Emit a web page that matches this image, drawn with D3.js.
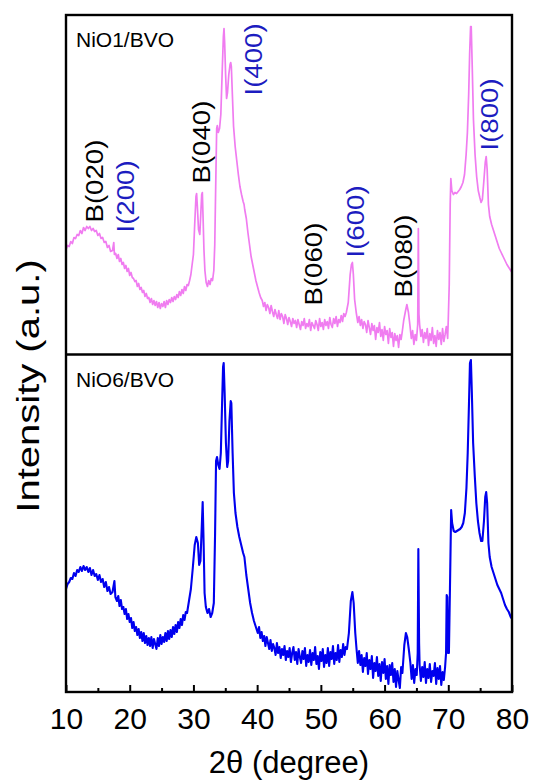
<!DOCTYPE html>
<html>
<head>
<meta charset="utf-8">
<script src="https://cdn.jsdelivr.net/npm/d3@7"></script>
<style>
body { margin: 0; background: #fff; }
svg text { font-family: "Liberation Sans", Arial, sans-serif; }
</style>
</head>
<body>
<svg id="chart" width="534" height="780"></svg>
<script>
// x axis
var xTicks = [10, 20, 30, 40, 50, 60, 70, 80];
var xMinorTicks = [15, 25, 35, 45, 55, 65, 75];

var sampleNames = ["NiO1/BVO", "NiO6/BVO"];

// [2theta, intensity a.u.]
var nio1Pattern = [
	[10.0,105],[10.25,109],[10.5,108],[10.75,113],[11.0,111],[11.25,117],[11.5,116],[11.75,120],[12.0,119],[12.25,124],
	[12.5,121],[12.75,127],[13.0,124],[13.25,128],[13.5,126],[13.75,128],[14.0,124],[14.25,126],[14.5,123],[14.75,124],
	[15.0,119],[15.25,121],[15.5,116],[15.75,117],[16.0,112],[16.25,113],[16.5,107],[16.75,109],[17.0,103],[17.3,104],
	[17.5,112],[17.6,100],[17.8,101],
	[18.0,96],[18.2,100],[18.4,93],[18.6,96],[18.8,90],[19.0,92],[19.2,86],[19.4,89],[19.6,83],[19.8,86],
	[20.0,79],[20.2,82],[20.4,77],[20.6,76],[20.8,73],[21.0,74],[21.2,68],[21.4,71],[21.6,65],[21.8,67],
	[22.0,62],[22.2,64],[22.4,58],[22.6,61],[22.8,56],[23.0,57],[23.2,52],[23.4,56],[23.6,50],[23.8,54],
	[24.0,49],[24.2,53],[24.4,47],[24.6,52],[24.8,46],[25.0,51],[25.2,48],[25.4,53],[25.6,47],[25.8,54],
	[26.0,50],[26.2,55],[26.4,52],[26.6,57],[26.8,53],[27.0,58],[27.2,55],[27.4,60],[27.6,57],[27.8,63],
	[28.0,59],[28.2,65],[28.4,61],[28.6,68],[28.8,64],[29.0,70],[29.2,69],[29.4,74],[29.6,80],[29.8,90],
	[30.0,100],[30.2,130],[30.4,158],[30.5,161],[30.6,150],[30.8,125],[31.0,120],[31.15,140],[31.3,160],
	[31.4,162],[31.5,140],[31.65,105],[31.8,84],[32.0,72],[32.2,68],[32.4,74],[32.6,70],[32.8,76],[33.0,74],
	[33.2,84],[33.35,110],[33.5,170],[33.65,226],[33.75,229],[33.9,222],[34.1,226],[34.3,240],[34.5,280],[34.7,318],
	[34.8,326],[34.9,312],[35.05,280],[35.2,256],[35.35,262],[35.55,280],[35.75,290],[35.85,292],[35.95,288],[36.1,262],
	[36.3,228],[36.55,208],[36.8,194],[37.05,180],[37.3,168],[37.55,160],[37.8,153],[37.95,150],[38.05,145],[38.3,136],
	[38.55,122],[38.8,110],[39.05,98],[39.3,90],[39.55,82],[39.8,74],[40.05,68],[40.3,62],[40.55,57],[40.8,54],
	[41.0,48],[41.2,52],[41.4,44],[41.6,50],[41.8,47],[42.0,41],[42.2,49],[42.4,43],[42.6,38],[42.8,45],
	[43.0,40],[43.2,36],[43.4,44],[43.6,35],[43.8,41],[44.0,38],[44.2,31],[44.4,40],[44.6,36],[44.8,30],
	[45.0,37],[45.2,33],[45.4,28],[45.6,36],[45.8,31],[46.0,34],[46.2,27],[46.4,35],[46.6,30],[46.8,25],
	[47.0,33],[47.2,29],[47.4,36],[47.6,26],[47.8,31],[48.0,28],[48.2,35],[48.4,24],[48.6,32],[48.8,29],
	[49.0,26],[49.2,34],[49.4,30],[49.6,24],[49.8,36],[50.0,28],[50.2,32],[50.4,25],[50.6,35],[50.8,29],
	[51.0,33],[51.2,26],[51.4,37],[51.6,30],[51.8,27],[52.0,36],[52.2,31],[52.4,38],[52.6,28],[52.8,35],
	[53.0,32],[53.2,39],[53.4,33],[53.6,41],[53.8,38],[54.0,42],[54.3,52],[54.6,80],[54.8,90],[54.95,92],
	[55.1,80],[55.3,55],[55.55,42],
	[55.8,32],[56.0,38],[56.2,29],[56.4,35],[56.6,26],[56.8,33],[57.0,30],[57.2,22],[57.4,34],[57.6,27],
	[57.8,20],[58.0,31],[58.2,24],[58.4,29],[58.6,15],[58.8,27],[59.0,22],[59.2,32],[59.4,18],[59.6,25],
	[59.8,14],[60.0,28],[60.2,20],[60.4,24],[60.6,11],[60.8,26],[61.0,17],[61.2,22],[61.4,8],[61.6,21],
	[61.8,14],[62.0,19],[62.2,7],[62.4,20],[62.6,15],[62.8,24],[63.0,34],[63.3,44],[63.5,50],[63.75,42],
	[64.0,28],[64.2,16],[64.4,24],[64.6,10],[64.8,20],[65.0,14],[65.2,30],[65.3,126],[65.4,40],
	[65.5,30],[65.7,18],[65.9,25],[66.1,12],[66.3,22],[66.5,16],[66.7,26],[66.9,9],[67.1,21],[67.3,14],
	[67.5,27],[67.7,11],[67.9,19],[68.1,8],[68.3,24],[68.5,15],[68.7,22],[68.9,10],[69.1,26],[69.3,13],
	[69.5,20],[69.7,28],[69.9,16],[70.0,35],
	[70.15,70],[70.3,150],[70.4,176],[70.55,164],[70.8,160],[71.05,162],[71.3,161],[71.55,163],[71.8,165],[72.05,168],
	[72.3,172],[72.55,180],[72.8,200],[73.0,222],[73.2,260],[73.35,300],[73.5,328],[73.6,328],[73.75,290],[73.95,235],
	[74.2,200],[74.45,178],[74.7,164],[74.95,157],[75.15,152],[75.35,155],[75.6,175],[75.8,192],[75.95,198],[76.1,185],
	[76.3,150],[76.5,138],[76.8,130],[77.1,124],[77.4,118],[77.7,112],[78.0,106],[78.3,102],[78.6,98],[78.9,94],
	[79.2,90],[79.5,87],[79.8,84],[80.0,82]
];

var nio6Pattern = [
	[10.0,104],[10.25,109],[10.5,111],[10.75,115],[11.0,114],[11.25,120],[11.5,117],[11.75,123],[12.0,121],[12.25,126],
	[12.5,122],[12.75,127],[13.0,123],[13.25,126],[13.5,121],[13.75,125],[14.0,118],[14.25,123],[14.5,117],[14.75,119],
	[15.0,113],[15.25,118],[15.5,111],[15.75,114],[16.0,106],[16.25,111],[16.5,102],[16.75,106],[17.0,99],[17.3,101],
	[17.6,112],[17.75,96],
	[18.0,92],[18.2,97],[18.4,87],[18.6,93],[18.8,84],[19.0,86],[19.2,79],[19.4,84],[19.6,74],[19.8,79],
	[20.0,71],[20.2,75],[20.4,65],[20.6,71],[20.8,62],[21.0,66],[21.2,58],[21.4,64],[21.6,55],[21.8,61],
	[22.0,52],[22.2,60],[22.4,50],[22.6,57],[22.8,48],[23.0,55],[23.2,47],[23.4,56],[23.6,45],[23.8,54],
	[24.0,49],[24.2,44],[24.4,55],[24.6,47],[24.8,58],[25.0,49],[25.2,56],[25.4,51],[25.6,60],[25.8,52],
	[26.0,62],[26.2,54],[26.4,63],[26.6,56],[26.8,66],[27.0,59],[27.2,68],[27.4,61],[27.6,71],[27.8,65],
	[28.0,74],[28.2,68],[28.4,78],[28.6,73],[28.8,81],[29.0,80],[29.3,92],[29.6,104],[29.9,125],
	[30.2,148],[30.45,156],[30.7,150],[30.9,128],[31.1,132],[31.3,165],[31.45,191],[31.6,150],[31.75,100],[31.95,86],
	[32.2,80],[32.45,84],[32.7,76],[32.95,80],[33.2,90],[33.4,160],[33.55,232],[33.7,236],[33.9,228],[34.1,224],
	[34.3,240],[34.5,290],[34.65,326],[34.75,330],[34.9,300],[35.1,250],[35.3,226],[35.45,232],[35.65,272],[35.85,292],
	[35.95,290],[36.15,240],[36.35,200],[36.6,180],[36.9,166],[37.2,156],[37.5,148],[37.8,140],[38.0,136],[38.3,118],
	[38.6,104],[38.9,90],[39.2,80],[39.5,72],[39.8,66],
	[40.1,60],[40.3,66],[40.5,55],[40.7,61],[40.9,52],[41.1,57],[41.3,47],[41.5,56],[41.7,50],[41.9,44],
	[42.1,53],[42.3,42],[42.5,49],[42.7,45],[42.9,38],[43.1,50],[43.3,40],[43.5,46],[43.7,35],[43.9,44],
	[44.1,38],[44.3,47],[44.5,33],[44.7,42],[44.9,36],[45.1,45],[45.3,31],[45.5,40],[45.7,46],[45.9,33],
	[46.1,41],[46.3,29],[46.5,44],[46.7,36],[46.9,30],[47.1,42],[47.3,34],[47.5,45],[47.7,27],[47.9,38],
	[48.1,31],[48.3,43],[48.5,28],[48.7,40],[48.9,33],[49.1,46],[49.3,29],[49.5,37],[49.7,24],[49.9,41],
	[50.1,32],[50.3,44],[50.5,26],[50.7,38],[50.9,30],[51.1,45],[51.3,27],[51.5,41],[51.7,34],[51.9,47],
	[52.1,29],[52.3,40],[52.5,33],[52.7,48],[52.9,31],[53.1,43],[53.3,36],[53.5,49],[53.7,38],[53.9,46],
	[54.1,44],[54.4,60],[54.7,92],[54.95,101],[55.15,90],[55.4,60],[55.6,44],
	[55.8,30],[56.0,42],[56.2,28],[56.4,38],[56.6,21],[56.8,35],[57.0,27],[57.2,40],[57.4,19],[57.6,33],
	[57.8,24],[58.0,37],[58.2,15],[58.4,30],[58.6,22],[58.8,36],[59.0,17],[59.2,29],[59.4,12],[59.6,31],
	[59.8,20],[60.0,34],[60.2,14],[60.4,27],[60.6,9],[60.8,28],[61.0,18],[61.2,30],[61.4,11],[61.6,24],
	[61.8,6],[62.0,22],[62.2,13],[62.4,5],[62.6,26],[62.8,20],[63.1,48],[63.35,60],[63.55,56],[63.8,44],
	[64.05,30],[64.25,14],[64.45,28],[64.65,10],[64.85,24],[65.05,18],[65.2,40],[65.3,144],[65.42,50],
	[65.5,28],[65.7,12],[65.9,26],[66.1,16],[66.3,31],[66.5,10],[66.7,24],[66.9,15],[67.1,29],[67.3,11],
	[67.5,22],[67.7,17],[67.9,30],[68.1,9],[68.3,25],[68.5,14],[68.7,27],[68.9,8],[69.1,21],[69.3,13],
	[69.5,26],[69.65,40],[69.75,98],[69.85,96],[69.95,40],[70.1,40],
	[70.3,120],[70.45,183],[70.6,170],[70.85,162],[71.1,161],[71.35,162],[71.6,163],[71.85,164],[72.1,166],[72.35,170],
	[72.6,180],[72.85,205],[73.05,240],[73.25,290],[73.4,330],[73.55,333],[73.7,300],[73.9,250],[74.15,218],[74.4,190],
	[74.65,172],[74.9,160],[75.15,152],[75.35,152],[75.6,172],[75.8,196],[75.95,201],[76.1,190],[76.3,150],[76.5,136],
	[76.8,126],[77.1,120],[77.4,114],[77.7,108],[78.0,104],[78.3,100],[78.6,94],[78.9,88],[79.2,84],[79.5,81],
	[79.8,76],[80.0,74]
];

// reflection labels for the top pattern: [text, 2theta, intensity where the text starts]
var peakLabels = [
	["B(020)", 14.55, 132],
	["I(200)", 19.4, 122],
	["B(040)", 31.35, 171],
	["I(400)", 39.5, 259],
	["B(060)", 48.8, 49],
	["I(600)", 55.5, 97],
	["B(080)", 63.05, 57],
	["I(800)", 76.55, 204]
];

// note: "top" is taken by window.top, so use plot* names
var plotLeft = 66, plotRight = 512, plotTop = 15, plotMid = 354.5, plotBottom = 692;
var svg = d3.select("#chart");

var x = d3.scaleLinear().domain([10, 80]).range([plotLeft, plotRight]);

var panels = [
	{ name: sampleNames[0], data: nio1Pattern, top: plotTop, y: d3.scaleLinear().domain([0, 340]).range([plotMid, plotMid - 340]), colour: "#f07cf0", width: 1.7 },
	{ name: sampleNames[1], data: nio6Pattern, top: plotMid, y: d3.scaleLinear().domain([0, 340]).range([plotBottom + 1, plotBottom + 1 - 340]), colour: "#0000ee", width: 2.1 }
];

panels.forEach(function(p) {
	var line = d3.line()
		.x(function(d) { return x(d[0]); })
		.y(function(d) { return p.y(d[1]); });
	svg.append("path").datum(p.data)
		.attr("d", line)
		.attr("fill", "none")
		.attr("stroke", p.colour)
		.attr("stroke-width", p.width)
		.attr("stroke-linejoin", "round");

	svg.append("text")
		.attr("x", plotLeft + 10)
		.attr("y", p.top + 32)
		.attr("font-size", 21)
		.text(p.name);
});

// B(hkl) black, I(hkl) blue
svg.selectAll("text.peak").data(peakLabels).enter()
	.append("text")
	.attr("class", "peak")
	.attr("transform", function(d) {
		return "translate(" + x(d[1]) + "," + panels[0].y(d[2]) + ") rotate(-90) scale(1.15,1)";
	})
	.attr("dy", "0.35em")
	.attr("font-size", 24)
	.attr("fill", function(d) { return d[0].charAt(0) === "I" ? "#1c1cc0" : "#000"; })
	.text(function(d) { return d[0]; });

// frame
svg.append("rect")
	.attr("x", plotLeft).attr("y", plotTop)
	.attr("width", plotRight - plotLeft).attr("height", plotBottom - plotTop)
	.attr("fill", "none").attr("stroke", "#000").attr("stroke-width", 2.4);
svg.append("line")
	.attr("x1", plotLeft).attr("x2", plotRight)
	.attr("y1", plotMid).attr("y2", plotMid)
	.attr("stroke", "#000").attr("stroke-width", 2.4);

// ticks point inward, minor ones in their own group
var axis = svg.append("g")
	.attr("transform", "translate(0," + plotBottom + ")")
	.call(d3.axisBottom(x).tickValues(xTicks).tickSize(-7).tickPadding(16).tickFormat(d3.format("d")));
var minorAxis = svg.append("g")
	.attr("transform", "translate(0," + plotBottom + ")")
	.call(d3.axisBottom(x).tickValues(xMinorTicks).tickSize(-4).tickFormat(""));
axis.select(".domain").remove();
minorAxis.select(".domain").remove();
axis.attr("font-size", 30).attr("font-family", null);
svg.selectAll(".tick line").attr("stroke-width", 2);
axis.selectAll("text").attr("fill", "#000");

svg.append("text")
	.attr("x", (plotLeft + plotRight) / 2)
	.attr("y", 773)
	.attr("text-anchor", "middle")
	.attr("font-size", 31)
	.text("2\u03b8 (degree)");

svg.append("text")
	.attr("transform", "translate(28," + 386 + ") rotate(-90) scale(1.25,1)")
	.attr("dy", "0.35em")
	.attr("text-anchor", "middle")
	.attr("font-size", 32)
	.text("Intensity (a.u.)");
</script>
</body>
</html>
